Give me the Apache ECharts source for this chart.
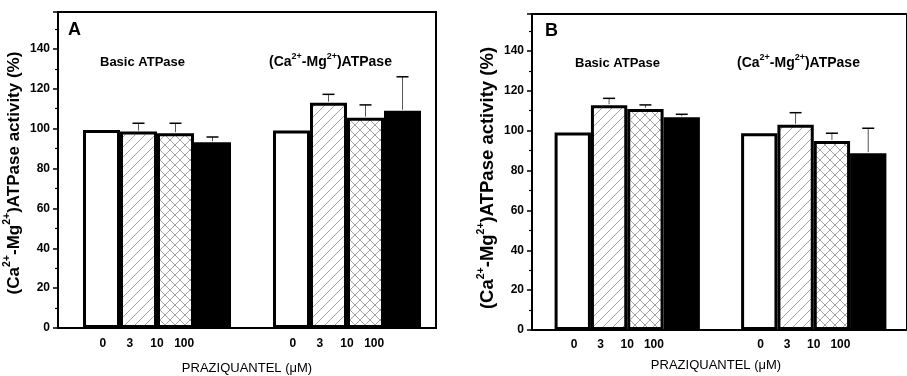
<!DOCTYPE html>
<html>
<head>
<meta charset="utf-8">
<script src="https://cdn.jsdelivr.net/npm/echarts@6/dist/echarts.min.js"></script>
<style>
  html, body { margin: 0; padding: 0; background: #fff; }
  #chart { width: 907px; height: 376px; }
</style>
</head>
<body>
<div id="chart"></div>
<script>
// praziquantel concentrations (uM), one bar series each
const doses = ['0', '3', '10', '100'];
const groups = ['Basic ATPase', '(Ca2+-Mg2+)ATPase'];
// labels under the bars, blank entries are only spacers
const doseTicks = ['', '0', '3', '10', '100', '', '', '', '0', '3', '10', '100', '', ''];

// panel A, activity in % of control
const basicA = [99.3, 98.5, 97.7, 93.2];
const basicAErr = [0, 4.2, 5.0, 2.6];
const camgA = [99, 113, 105.5, 109];
const camgAErr = [0, 4.2, 6.4, 17];

// panel B
const basicB = [99, 112.7, 110.9, 106.7];
const basicBErr = [0, 3.5, 2.0, 1.5];
const camgB = [98.7, 102.9, 94.8, 88.7];
const camgBErr = [0, 6.1, 3.9, 12.5];

const FONT = 'Liberation Sans, Arial, sans-serif';
const GAP = 0.221;

function hatch(cross) {
  const c = document.createElement('canvas');
  c.width = 10; c.height = 10;
  const ctx = c.getContext('2d');
  ctx.fillStyle = '#fff';
  ctx.fillRect(0, 0, 10, 10);
  ctx.strokeStyle = '#8a8a8a';
  ctx.lineWidth = 0.8;
  ctx.beginPath();
  ctx.moveTo(0, 10); ctx.lineTo(10, 0);
  ctx.moveTo(-1, 1); ctx.lineTo(1, -1);
  ctx.moveTo(9, 11); ctx.lineTo(11, 9);
  if (cross) {
    ctx.moveTo(0, 0); ctx.lineTo(10, 10);
    ctx.moveTo(-1, 9); ctx.lineTo(1, 11);
    ctx.moveTo(9, -1); ctx.lineTo(11, 1);
  }
  ctx.stroke();
  return { image: c, repeat: 'repeat' };
}

const fills = ['#fff', hatch(false), hatch(true), '#000'];

const yName = '(Ca{sup|2+}-Mg{sup|2+})ATPase activity (%)';

function frameY(gridIndex, nameGap, fontSize, shiftDown) {
  return {
    gridIndex: gridIndex,
    type: 'value',
    min: 0,
    max: 158.5,
    interval: 20,
    axisLine: { show: true, lineStyle: { color: '#000', width: 2 } },
    axisTick: { show: true, length: 5, lineStyle: { color: '#000', width: 1.5 } },
    minorTick: { show: true, splitNumber: 2, length: 3, lineStyle: { color: '#000', width: 1.2 } },
    splitLine: { show: false },
    axisLabel: {
      color: '#000', fontSize: 12, fontWeight: 'bold', fontFamily: FONT, margin: 8,
      showMaxLabel: false
    },
    name: yName,
    nameLocation: 'middle',
    nameGap: nameGap,
    nameTextStyle: {
      color: '#000', fontSize: fontSize, fontWeight: 'bold', fontFamily: FONT, lineHeight: 24,
      padding: [0, shiftDown * 2, 0, 0],
      rich: {
        sup: { fontSize: 10.5, fontWeight: 'bold', fontFamily: FONT, color: '#000', lineHeight: 13, verticalAlign: 'top' }
      }
    }
  };
}

function barY(gridIndex) {
  return { gridIndex: gridIndex, type: 'value', min: 0, max: 158.5, show: false };
}

function barSeries(xIdx, yIdx, basic, camg) {
  return doses.map((d, i) => ({
    name: d + ' uM',
    type: 'bar',
    xAxisIndex: xIdx,
    yAxisIndex: yIdx,
    barGap: '0%',
    barCategoryGap: (GAP * 100) + '%',
    itemStyle: { color: fills[i], borderColor: '#000', borderWidth: 3 },
    data: [basic[i], camg[i]],
    z: 2
  }));
}

function errorSeries(xIdx, yIdx, means, errs) {
  const data = [];
  means.forEach((arr, g) => arr.forEach((v, d) => {
    if (errs[g][d] > 0) data.push([g, v, v + errs[g][d], d]);
  }));
  return {
    type: 'custom',
    xAxisIndex: xIdx,
    yAxisIndex: yIdx,
    z: 5,
    renderItem: function (params, api) {
      const g = api.value(0), d = api.value(3);
      const base = api.coord([g, api.value(1)]);
      const top = api.coord([g, api.value(2)]);
      const band = api.size([1, 0])[0];
      const barW = band * (1 - GAP) / 4;
      const x = base[0] + (d - 1.5) * barW;
      return {
        type: 'group',
        children: [
          { type: 'line', shape: { x1: x, y1: base[1] - 1, x2: x, y2: top[1] }, style: { stroke: '#555', lineWidth: 1 } },
          { type: 'line', shape: { x1: x - 6, y1: top[1], x2: x + 6, y2: top[1] }, style: { stroke: '#000', lineWidth: 1.5 } }
        ]
      };
    },
    data: data
  };
}

function txt(x, y, text, size, weight, align, rich) {
  return {
    type: 'text', x: x, y: y, z: 10,
    style: {
      text: text, fill: '#000', fontSize: size, fontWeight: weight, fontFamily: FONT,
      align: align || 'left', verticalAlign: 'middle', rich: rich,
      lineHeight: rich ? 20 : undefined
    }
  };
}

const groupSup = { sup: { fontSize: 9, fontWeight: 'bold', fontFamily: FONT, fill: '#000', lineHeight: 11, verticalAlign: 'top' } };
const camgTitle = '(Ca{sup|2+}-Mg{sup|2+})ATPase';

const frameStyle = { show: true, borderColor: '#000', borderWidth: 2, backgroundColor: 'transparent' };

const chart = echarts.init(document.getElementById('chart'));
chart.setOption({
  animation: false,
  backgroundColor: '#fff',
  textStyle: { fontFamily: FONT },
  grid: [
    Object.assign({ left: 58, top: 12, width: 378, height: 316 }, frameStyle),
    { left: 62, top: 12, width: 380, height: 316 },
    Object.assign({ left: 532, top: 14, width: 390, height: 316 }, frameStyle),
    { left: 534, top: 14, width: 380, height: 316 }
  ],
  xAxis: [
    { gridIndex: 0, type: 'value', show: false },
    { gridIndex: 1, type: 'category', data: groups, show: false },
    {
      gridIndex: 1, type: 'category', data: doseTicks, position: 'bottom',
      axisLine: { show: false }, axisTick: { show: false },
      axisLabel: { interval: 0, color: '#000', fontSize: 12, fontWeight: 'bold', margin: 10 }
    },
    { gridIndex: 2, type: 'value', show: false },
    { gridIndex: 3, type: 'category', data: groups, show: false },
    {
      gridIndex: 3, type: 'category', data: doseTicks, position: 'bottom',
      axisLine: { show: false }, axisTick: { show: false },
      axisLabel: { interval: 0, color: '#000', fontSize: 12, fontWeight: 'bold', margin: 9 }
    }
  ],
  yAxis: [
    frameY(0, 27, 17, 3),
    barY(1),
    frameY(2, 32, 18.5, 6),
    barY(3)
  ],
  series: [].concat(
    barSeries(1, 1, basicA, camgA),
    [errorSeries(1, 1, [basicA, camgA], [basicAErr, camgAErr])],
    barSeries(4, 3, basicB, camgB),
    [errorSeries(4, 3, [basicB, camgB], [basicBErr, camgBErr])]
  ),
  graphic: [
    txt(68, 30, 'A', 18, 'bold'),
    txt(100, 62, groups[0], 13, 'bold'),
    txt(269, 62, camgTitle, 14, 'bold', 'left', groupSup),
    txt(247, 368, 'PRAZIQUANTEL (\u03bcM)', 13, 'normal', 'center'),
    txt(545, 31, 'B', 18, 'bold'),
    txt(575, 63, groups[0], 13, 'bold'),
    txt(737, 63, camgTitle, 14, 'bold', 'left', groupSup),
    txt(716, 365, 'PRAZIQUANTEL (\u03bcM)', 13, 'normal', 'center')
  ]
});
</script>
</body>
</html>
